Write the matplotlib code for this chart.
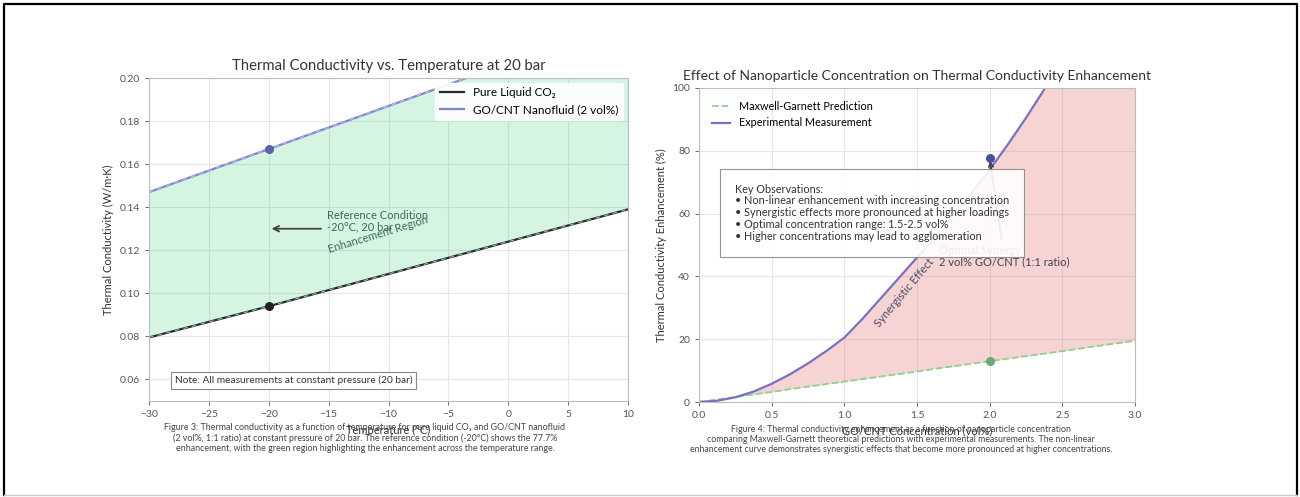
import numpy as np
import matplotlib.pyplot as plt
from matplotlib.lines import Line2D

plt.rcParams['font.family'] = ['Lato', 'DejaVu Sans']

# left panel data
temps = [-30, -20, -10, 0, 10]
k_pure = [0.0795, 0.094, 0.109, 0.124, 0.139]
k_nano = [0.147, 0.167, 0.187, 0.207, 0.227]
ref_temp = -20
ref_pure = 0.094
ref_nano = 0.167

# right panel data
conc = [0.0, 0.125, 0.25, 0.375, 0.5, 0.625, 0.75, 0.875, 1.0, 1.125, 1.25, 1.375,
        1.5, 1.625, 1.75, 1.875, 2.0, 2.125, 2.25, 2.375, 2.5, 2.75, 3.0]
mg_pred = [0.0, 0.8, 1.6, 2.4, 3.2, 4.1, 4.9, 5.7, 6.5, 7.3, 8.1, 8.9,
           9.7, 10.6, 11.4, 12.2, 13.0, 13.8, 14.6, 15.4, 16.2, 17.9, 19.5]
exp_meas = [0.0, 0.4, 1.5, 3.3, 5.8, 8.8, 12.3, 16.2, 20.5, 26.5, 33.0, 39.5,
            46.0, 52.5, 59.5, 66.5, 74.0, 82.0, 90.5, 99.5, 109.0, 130.0, 152.0]
opt_conc = 2.0
opt_mg = 13.0
opt_exp = 77.7

fig = plt.figure(figsize=(13, 4.97), dpi=100)
W, H = 1300, 497

def box(x0, y0, x1, y1):
    return [x0 / W, 1 - y1 / H, (x1 - x0) / W, (y1 - y0) / H]

ax1 = fig.add_axes(box(149, 78, 628, 401))
ax2 = fig.add_axes(box(699, 88, 1135, 402))

for ax in (ax1, ax2):
    ax.grid(True, color='#e6e6e6', lw=0.8)
    ax.set_axisbelow(True)
    for s in ax.spines.values():
        s.set_color('#bdbdbd')
        s.set_linewidth(0.8)
    ax.tick_params(labelsize=7.5, colors='#555555', length=3, width=0.6)

# ---- left: conductivity vs temperature
ax1.fill_between(temps, k_pure, k_nano, color='#2ecc71', alpha=0.2, lw=0)
ax1.plot(temps, k_pure, color='#2a2a2a', lw=1.6, label='Pure Liquid CO₂')
ax1.plot(temps, k_pure, color='#8fb8a0', lw=0.8, ls=(0, (4, 4)))
ax1.plot(temps, k_nano, color='#7f86cc', lw=1.6, label='GO/CNT Nanofluid (2 vol%)')
ax1.plot(temps, k_nano, color='#b9bfe6', lw=0.8, ls=(0, (4, 4)))
ax1.scatter([ref_temp], [ref_pure], s=30, color='#222222', zorder=5)
ax1.scatter([ref_temp], [ref_nano], s=30, color='#5b62a8', zorder=5)
ax1.set_xlim(-30, 10)
ax1.set_ylim(0.05, 0.20)
ax1.set_yticks([0.06, 0.08, 0.10, 0.12, 0.14, 0.16, 0.18, 0.20])
ax1.set_title('Thermal Conductivity vs. Temperature at 20 bar', fontsize=10.7, color='#333333', pad=6)
ax1.set_xlabel('Temperature (°C)', fontsize=8, color='#333333', labelpad=4)
ax1.set_ylabel('Thermal Conductivity (W/m·K)', fontsize=8, color='#333333')
ax1.legend(loc='upper right', fontsize=8.5, frameon=True, facecolor='white', edgecolor='white',
           framealpha=0.9, borderaxespad=0.4)
ax1.annotate('', xy=(-20, 0.130), xytext=(-15.4, 0.130),
             arrowprops=dict(arrowstyle='->', color='#444444', lw=1.3))
ax1.text(-15.1, 0.1335, 'Reference Condition\n-20°C, 20 bar', fontsize=8, color='#3d6b52',
         va='center', linespacing=1.0)
ax1.text(-14.9, 0.1185, 'Enhancement Region', fontsize=8, color='#3d6b52', rotation=17,
         rotation_mode='anchor')
ax1.text(-27.85, 0.0595, 'Note: All measurements at constant pressure (20 bar)', fontsize=7.3,
         color='#333333', va='center',
         bbox=dict(boxstyle='square,pad=0.4', facecolor='white', edgecolor='#888888', lw=0.8))

# ---- right: enhancement vs concentration
ax2.fill_between(conc, mg_pred, exp_meas, color='#e06666', alpha=0.28, lw=0)
ax2.plot(conc, mg_pred, color='#8fd08f', lw=1.3, ls='--', label='Maxwell-Garnett Prediction')
ax2.plot(conc, exp_meas, color='#7a70c0', lw=1.6, label='Experimental Measurement')
ax2.scatter([opt_conc], [opt_mg], s=30, color='#6aa874', zorder=5)
ax2.scatter([opt_conc], [opt_exp], s=30, color='#4b509a', zorder=5)
ax2.set_xlim(0, 3.0)
ax2.set_ylim(0, 100)
ax2.set_title('Effect of Nanoparticle Concentration on Thermal Conductivity Enhancement',
              fontsize=10, color='#333333', pad=6)
ax2.set_xlabel('GO/CNT Concentration (vol%)', fontsize=8, color='#333333', labelpad=4)
ax2.set_ylabel('Thermal Conductivity Enhancement (%)', fontsize=8, color='#333333')
ax2.legend(loc='upper left', fontsize=7.8, frameon=False, borderaxespad=0.8, handlelength=1.7)
ax2.annotate('Optimal Synergy\n2 vol% GO/CNT (1:1 ratio)', xy=(opt_conc, opt_exp), xytext=(1.65, 43),
             fontsize=8, color='#444444', ha='left', va='bottom', linespacing=1.0,
             arrowprops=dict(arrowstyle='->', color='#444444', lw=1.2))
ax2.text(1.24, 23.5, 'Synergistic Effect', fontsize=8, color='#4a4a6a', rotation=50,
         rotation_mode='anchor')
ax2.text(0.248, 69.5, 'Key Observations:\n'
         '• Non-linear enhancement with increasing concentration\n'
         '• Synergistic effects more pronounced at higher loadings\n'
         '• Optimal concentration range: 1.5-2.5 vol%\n'
         '• Higher concentrations may lead to agglomeration',
         fontsize=7.8, color='#333333', linespacing=1.08, va='top', zorder=10,
         bbox=dict(boxstyle='square,pad=1.4', facecolor='white', edgecolor='#888888', lw=0.8, alpha=0.9))

# captions
cap1 = ('Figure 3: Thermal conductivity as a function of temperature for pure liquid CO₂ and GO/CNT nanofluid\n'
        '(2 vol%, 1:1 ratio) at constant pressure of 20 bar. The reference condition (-20°C) shows the 77.7%\n'
        'enhancement, with the green region highlighting the enhancement across the temperature range.')
cap2 = ('Figure 4: Thermal conductivity enhancement as a function of nanoparticle concentration\n'
        'comparing Maxwell-Garnett theoretical predictions with experimental measurements. The non-linear\n'
        'enhancement curve demonstrates synergistic effects that become more pronounced at higher concentrations.')
fig.text(365 / W, 1 - 423 / H, cap1, fontsize=6.4, color='#444444', ha='center', va='top', linespacing=1.15)
fig.text(901 / W, 1 - 425 / H, cap2, fontsize=6.3, color='#444444', ha='center', va='top', linespacing=1.15)

# outer frame
fig.add_artist(Line2D([4 / W, 4 / W, 1297 / W, 1297 / W], [1 - 495 / H, 1 - 4 / H, 1 - 4 / H, 1 - 495 / H],
                      transform=fig.transFigure, color='black', lw=1.6))
fig.add_artist(Line2D([4 / W, 1297 / W], [1 - 495 / H, 1 - 495 / H],
                      transform=fig.transFigure, color='#cccccc', lw=1))

fig.savefig('out.png', dpi=100)
